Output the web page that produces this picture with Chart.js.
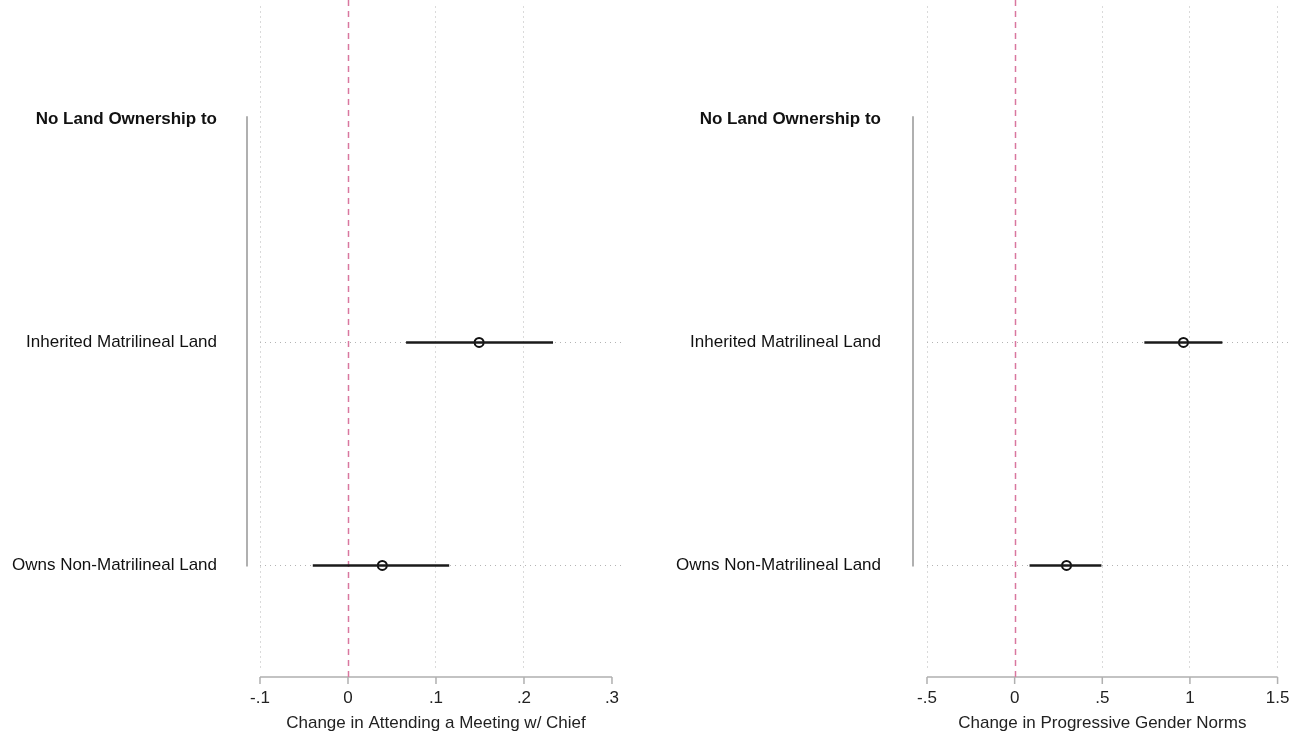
<!DOCTYPE html>
<html lang="en">
<head>
    <meta charset="UTF-8">
    <title>Land ownership coefficient plots</title>
    <script src="https://cdn.jsdelivr.net/npm/chart.js"></script>
    <style>
        body { margin: 0; background: #fff; }
        .painel { position: absolute; top: 0; width: 648px; height: 740px; }
    </style>
</head>
<body>
    <div class="painel" style="left:0"><canvas id="chartMeeting" width="648" height="740"></canvas></div>
    <div class="painel" style="left:648px"><canvas id="chartNorms" width="648" height="740"></canvas></div>

    <script>
        // rows (first one is a header line, no estimate)
        const rowLabels = ['No Land Ownership to', 'Inherited Matrilineal Land', 'Owns Non-Matrilineal Land'];

        // left panel: attending a meeting w/ chief
        const meetingEst = [0.149, 0.039];
        const meetingLow = [0.066, -0.040];
        const meetingHigh = [0.233, 0.115];
        const meetingTicks = [-0.1, 0, 0.1, 0.2, 0.3];
        const meetingTickLabels = ['-.1', '0', '.1', '.2', '.3'];

        // right panel: progressive gender norms
        const normsEst = [0.963, 0.296];
        const normsLow = [0.740, 0.085];
        const normsHigh = [1.185, 0.495];
        const normsTicks = [-0.5, 0, 0.5, 1, 1.5];
        const normsTickLabels = ['-.5', '0', '.5', '1', '1.5'];

        const fonte = '"Liberation Sans", Arial, Helvetica, sans-serif';
        const cinzaEixo = '#b0b0b0';
        const cinzaGrade = '#b4b4b4';

        // extra axis lines, zero line and x title, drawn from the scales
        const eixosStata = {
            id: 'eixosStata',
            beforeDatasetsDraw(chart, args, opts) {
                const ctx = chart.ctx;
                const area = chart.chartArea;
                const x = chart.scales.x;
                const y = chart.scales.y;
                const xAxisY = area.bottom + 9;
                const x0 = x.getPixelForValue(opts.ticks[0]);
                const x1 = x.getPixelForValue(opts.ticks[opts.ticks.length - 1]);

                ctx.save();
                // y axis line, only over the rows
                ctx.strokeStyle = cinzaEixo;
                ctx.lineWidth = 2;
                ctx.beginPath();
                ctx.moveTo(area.left - opts.yGap, y.getPixelForValue(0) - 3);
                ctx.lineTo(area.left - opts.yGap, y.getPixelForValue(rowLabels.length - 1) + 1);
                ctx.stroke();

                // x axis line with tick marks
                ctx.lineWidth = 1.5;
                ctx.beginPath();
                ctx.moveTo(x0, xAxisY);
                ctx.lineTo(x1, xAxisY);
                opts.ticks.forEach(v => {
                    const px = x.getPixelForValue(v);
                    ctx.moveTo(px, xAxisY);
                    ctx.lineTo(px, xAxisY + 7);
                });
                ctx.stroke();

                // reference line at zero
                ctx.strokeStyle = '#d9779f';
                ctx.lineWidth = 1.5;
                ctx.setLineDash([6, 5]);
                ctx.beginPath();
                const zx = Math.round(x.getPixelForValue(0)) + 0.5;
                ctx.moveTo(zx, 0);
                ctx.lineTo(zx, xAxisY);
                ctx.stroke();
                ctx.setLineDash([]);

                // x title centred on the axis range
                ctx.fillStyle = '#222';
                ctx.font = '17px ' + fonte;
                ctx.textAlign = 'center';
                ctx.textBaseline = 'middle';
                ctx.fillText(opts.title, (x0 + x1) / 2, 723);
                ctx.restore();
            }
        };

        function montarPainel(canvasId, est, low, high, ticks, tickLabels, titulo, leftPx, rightGap, rightPad, yGap, labelPad, hideLast) {
            const datasets = [];
            est.forEach((v, i) => {
                const linha = i + 1;
                datasets.push({
                    type: 'scatter',
                    showLine: true,
                    data: [{ x: low[i], y: linha }, { x: high[i], y: linha }],
                    borderColor: '#1a1a1a',
                    borderWidth: 2.5,
                    pointRadius: 0
                });
            });
            datasets.push({
                type: 'scatter',
                data: est.map((v, i) => ({ x: v, y: i + 1 })),
                pointStyle: 'circle',
                pointRadius: 4.5,
                pointBorderWidth: 2,
                pointBorderColor: '#111',
                pointBackgroundColor: '#fff'
            });

            const span = ticks[ticks.length - 1] - ticks[0];

            return new Chart(document.getElementById(canvasId), {
                type: 'scatter',
                data: { datasets: datasets },
                plugins: [eixosStata],
                options: {
                    responsive: false,
                    animation: false,
                    devicePixelRatio: 1,
                    layout: { padding: { top: 0, right: rightGap, left: 0, bottom: 0 } },
                    plugins: {
                        legend: { display: false },
                        tooltip: { enabled: false },
                        eixosStata: { ticks: ticks, title: titulo, yGap: yGap }
                    },
                    scales: {
                        x: {
                            type: 'linear',
                            min: ticks[0],
                            max: ticks[ticks.length - 1] + span * rightPad,
                            afterBuildTicks: s => { s.ticks = ticks.map(v => ({ value: v })); },
                            afterFit: s => { s.height = 72; s.paddingLeft = 0; s.paddingRight = 0; },
                            grid: {
                                drawTicks: false,
                                lineWidth: 1,
                                color: c => {
                                    if (c.tick && c.tick.value === 0) return 'rgba(0,0,0,0)';
                                    if (hideLast && c.tick && c.tick.value === ticks[ticks.length - 1]) return 'rgba(0,0,0,0)';
                                    return cinzaGrade;
                                }
                            },
                            border: { display: false, dash: [1, 4] },
                            ticks: {
                                padding: 20,
                                color: '#222',
                                font: { family: fonte, size: 17 },
                                maxRotation: 0,
                                callback: (v) => {
                                    const k = ticks.indexOf(v);
                                    return k >= 0 ? tickLabels[k] : '';
                                }
                            }
                        },
                        y: {
                            type: 'linear',
                            reverse: true,
                            min: -0.506,
                            max: 2.46,
                            afterBuildTicks: s => { s.ticks = rowLabels.map((l, i) => ({ value: i })); },
                            afterFit: s => { s.width = leftPx; s.paddingTop = 0; s.paddingBottom = 0; },
                            grid: {
                                drawTicks: false,
                                lineWidth: 1,
                                color: c => (c.tick && c.tick.value === 0) ? 'rgba(0,0,0,0)' : cinzaGrade
                            },
                            border: { display: false, dash: [1, 4] },
                            ticks: {
                                padding: labelPad,
                                color: '#111',
                                font: c => ({ family: fonte, size: 17, weight: (c.tick && c.tick.value === 0) ? 'bold' : 'normal' }),
                                callback: (v) => rowLabels[v] || ''
                            }
                        }
                    }
                }
            });
        }

        montarPainel('chartMeeting', meetingEst, meetingLow, meetingHigh, meetingTicks, meetingTickLabels,
            'Change in Attending a Meeting w/ Chief', 260, 23, 0.037, 13, 43, true);
        montarPainel('chartNorms', normsEst, normsLow, normsHigh, normsTicks, normsTickLabels,
            'Change in Progressive Gender Norms', 279, 6, 0.034, 14, 46, false);
    </script>
</body>
</html>
